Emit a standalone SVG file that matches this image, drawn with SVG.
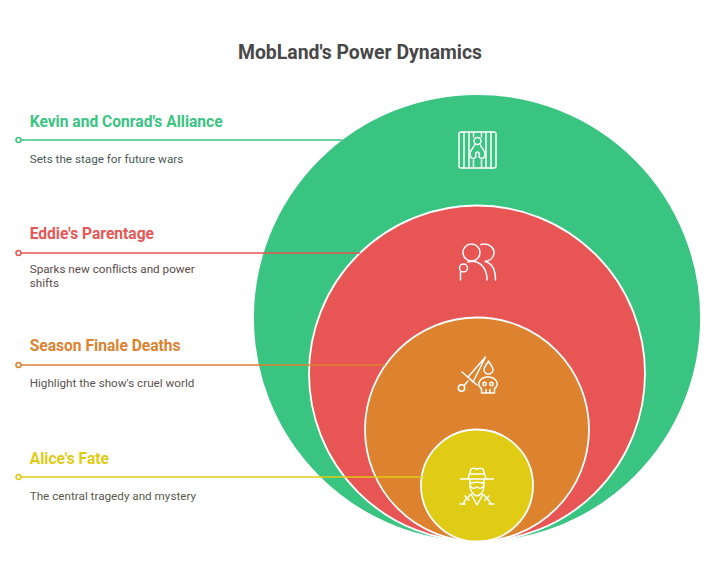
<svg xmlns="http://www.w3.org/2000/svg" width="720" height="580" viewBox="0 0 720 580">
<style>
text{font-family:Roboto,"Liberation Sans",sans-serif}
.t{font-size:19.4px;font-weight:700;fill:#484848}
.h{font-size:15.6px;font-weight:700}
.d{font-size:11.7px}
.c{stroke:#fff;stroke-width:1.8}
.i{fill:none;stroke:#fff;stroke-width:1.5;stroke-linecap:round;stroke-linejoin:round}
.l{fill:none;stroke-width:1.5}
.o{fill:#fff;stroke-width:1.5}
</style>
<rect width="720" height="580" fill="#fff"/>
<text class="t" x="360" y="58.500" text-anchor="middle">MobLand's Power Dynamics</text>
<g id="node-kevin">
<circle class="c" cx="477" cy="318" r="224" fill="#3ac482"/>
<text class="h" x="29.700" y="127.400" fill="#3ac482">Kevin and Conrad's Alliance</text>
<text class="d" x="29.700" y="163" fill="#4a5a54">Sets the stage for future wars</text>
<g class="i"><rect x="459" y="132" width="37" height="36" rx="2"/><path d="M464 132V168M469 132V168M473.500 132V137M481.500 132V137M486 132V168M491 132V168M473.500 160V168M481.500 160V168"/><circle cx="477.500" cy="141" r="3.500"/><path d="M474.500 145C473 149 470 150 470 154C470 158 473 160 476 157C475 154 476 152 477.500 152C479 152 480 154 479 157C482 160 485 158 485 154C485 150 482 149 480.500 145"/></g>
</g>
<g id="node-eddie">
<circle class="c" cx="477" cy="373.500" r="168" fill="#e75655"/>
<text class="h" x="29.700" y="239.400" fill="#e75655">Eddie's Parentage</text>
<text class="d" x="29.700" y="273" fill="#5c4b4b">Sparks new conflicts and power</text>
<text class="d" x="29.700" y="287" fill="#5c4b4b">shifts</text>
<g class="i"><circle cx="471.500" cy="252.500" r="8.500"/><path d="M481 244.500C489 242.500 494.500 248 494 253C493.500 258 489.500 261 485 261.500C491.500 263 495.500 269 495.500 280M468 262C476 259.500 487 264 487 280"/><circle cx="463.500" cy="268" r="4"/><path d="M460.500 272V280"/></g>
</g>
<g id="node-finale">
<circle class="c" cx="477" cy="429.500" r="112" fill="#dd822e"/>
<text class="h" x="29.700" y="351.400" fill="#dd822e">Season Finale Deaths</text>
<text class="d" x="29.700" y="387" fill="#5c5450">Highlight the show's cruel world</text>
<g class="i"><path d="M485.500 357L468 377L473 382L485.500 357ZM462 372L477 385M468 381L464 385.500"/><circle cx="461.500" cy="388" r="3.200"/><path d="M488.500 361C487 364.500 484 366.500 484 369.500A4.500 4.500 0 0 0 493 369.500C493 366.500 490 364.500 488.500 361ZM481.500 388.500C476 385 479.500 377 488 377C496.500 377 500 385 494.500 388.500V393H481.500ZM486 393V389.500M490 393V389.500"/><circle cx="484.500" cy="384" r="1.700"/><circle cx="491.500" cy="384" r="1.700"/></g>
</g>
<g id="node-alice">
<circle class="c" cx="477" cy="485.500" r="56" fill="#e0cb15"/>
<text class="h" x="29.700" y="464.400" fill="#e0cb15">Alice's Fate</text>
<text class="d" x="29.700" y="500" fill="#5a5a4c">The central tragedy and mystery</text>
<g class="i"><path d="M460.500 479H493.500M468 478.500L471 469C474 467 476 469 477 469C478 469 480 467 483 469L486 478.500M470 474H484M470 480V486C470 492 475 496 477 496C479 496 484 492 484 486V480M470 483.500C474 482 480 482 484 483.500C484 488 480 489.500 477 487C474 489.500 470 488 470 483.500M471 494L477 505L483 494M470 495C468 498 465 499 463 504M484 495C486 498 489 499 491 504M465 496L469 500M489 496L485 500M460 504H465M489 504H494"/></g>
</g>
<g id="connectors">
<path class="l" stroke="#3ac482" d="M21 140H342"/>
<circle class="o" cx="18.500" cy="140" r="2.500" stroke="#3ac482"/>
<path class="l" stroke="#e75655" d="M21 253H360"/>
<circle class="o" cx="18.500" cy="253" r="2.500" stroke="#e75655"/>
<path class="l" stroke="#dd822e" d="M21 365H385"/>
<circle class="o" cx="18.500" cy="365" r="2.500" stroke="#dd822e"/>
<path class="l" stroke="#e0cb15" d="M21 477H422"/>
<circle class="o" cx="18.500" cy="477" r="2.500" stroke="#e0cb15"/>
</g>
</svg>
